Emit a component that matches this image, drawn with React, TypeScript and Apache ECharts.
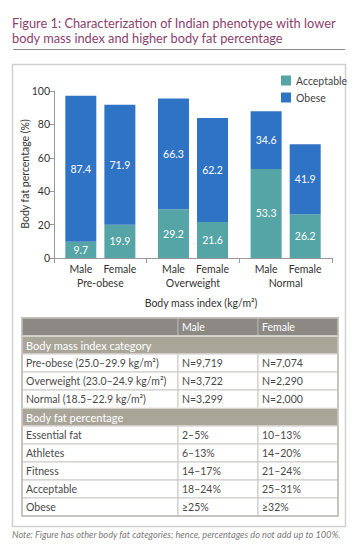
import React, { useEffect, useRef } from "react";
import * as echarts from "echarts";

const titleLines = [
  "Figure 1: Characterization of Indian phenotype with lower",
  "body mass index and higher body fat percentage",
];
const categories = ["Pre-obese", "Overweight", "Normal"];
const genders = ["Male", "Female"];
const maleAcceptable = [9.7, 29.2, 53.3];
const maleObese = [87.4, 66.3, 34.6];
const femaleAcceptable = [19.9, 21.6, 26.2];
const femaleObese = [71.9, 62.2, 41.9];
const yTicks = [0, 20, 40, 60, 80, 100];
const yAxisTitle = "Body fat percentage (%)";
const xAxisTitle = "Body mass index (kg/m²)";

const tableHeader = ["", "Male", "Female"];
const bmiSection = "Body mass index category";
const bmiRows = [
  ["Pre-obese (25.0–29.9 kg/m²)", "N=9,719", "N=7,074"],
  ["Overweight (23.0–24.9 kg/m²)", "N=3,722", "N=2,290"],
  ["Normal (18.5–22.9 kg/m²)", "N=3,299", "N=2,000"],
];
const fatSection = "Body fat percentage";
const fatRows = [
  ["Essential fat", "2–5%", "10–13%"],
  ["Athletes", "6–13%", "14–20%"],
  ["Fitness", "14–17%", "21–24%"],
  ["Acceptable", "18–24%", "25–31%"],
  ["Obese", "≥25%", "≥32%"],
];
const noteText =
  "Note: Figure has other body fat categories; hence, percentages do not add up to 100%.";

const FONT = "Lato, 'Open Sans', sans-serif";
const TEAL = "#56a5a6";
const BLUE = "#2f73c5";

function buildTable() {
  const els: any[] = [];
  const x0 = 22;
  const colX = [22, 178, 258, 338];
  const rowH = 18;
  let y = 318;
  const border = "#cbc8c3";
  const addRow = (cells: string[], kind: "header" | "section" | "body") => {
    if (kind === "section") {
      els.push({
        type: "rect",
        shape: { x: x0, y, width: colX[3] - x0, height: rowH },
        style: { fill: "#a9a699", stroke: "#ffffff", lineWidth: 1 },
      });
      els.push({
        type: "text",
        x: x0 + 4,
        y: y + rowH / 2,
        style: { text: cells[0], fill: "#ffffff", fontSize: 11, fontFamily: FONT, verticalAlign: "middle" },
      });
    } else {
      for (let c = 0; c < 3; c++) {
        els.push({
          type: "rect",
          shape: { x: colX[c], y, width: colX[c + 1] - colX[c], height: rowH },
          style: {
            fill: kind === "header" ? "#8c8984" : "#ffffff",
            stroke: kind === "header" ? "#b5b2ac" : border,
            lineWidth: 1,
          },
        });
        if (cells[c]) {
          els.push({
            type: "text",
            x: colX[c] + 4,
            y: y + rowH / 2,
            style: {
              text: cells[c],
              fill: kind === "header" ? "#ffffff" : "#4a4a4a",
              fontSize: 10.5,
              fontFamily: FONT,
              verticalAlign: "middle",
            },
          });
        }
      }
    }
    y += rowH;
  };
  addRow(tableHeader, "header");
  addRow([bmiSection], "section");
  bmiRows.forEach((r) => addRow(r, "body"));
  addRow([fatSection], "section");
  fatRows.forEach((r) => addRow(r, "body"));
  els.push({
    type: "rect",
    shape: { x: x0, y: 318, width: colX[3] - x0, height: y - 318 },
    style: { fill: "none", stroke: "#bdbab5", lineWidth: 1.5 },
  });
  return els;
}

export default function App() {
  const ref = useRef<HTMLDivElement>(null);
  useEffect(() => {
    if (!ref.current) return;
    const chart = echarts.init(ref.current, null, { renderer: "svg" });
    const labelStyle = {
      show: true,
      position: "inside" as const,
      color: "#ffffff",
      fontSize: 10.5,
      fontFamily: FONT,
      formatter: (p: any) => p.value.toFixed(1),
    };
    const seriesDefs = [
      { name: "Acceptable", stack: "male", data: maleAcceptable, color: TEAL },
      { name: "Obese", stack: "male", data: maleObese, color: BLUE },
      { name: "Acceptable", stack: "female", data: femaleAcceptable, color: TEAL },
      { name: "Obese", stack: "female", data: femaleObese, color: BLUE },
    ];
    chart.setOption({
      animation: false,
      backgroundColor: "#ffffff",
      title: {
        text: titleLines.join("\n"),
        left: 12,
        top: 15,
        padding: 0,
        textStyle: { fontSize: 12.8, lineHeight: 15, fontWeight: "normal", color: "#8b3f6e", fontFamily: FONT },
      },
      legend: {
        orient: "vertical",
        left: 276,
        top: 70,
        itemWidth: 10,
        itemHeight: 10,
        itemGap: 6,
        icon: "rect",
        data: ["Acceptable", "Obese"],
        textStyle: { fontSize: 10.5, color: "#444", fontFamily: FONT },
      },
      grid: { left: 54, right: 24, top: 91, bottom: 294 },
      xAxis: {
        type: "category",
        data: categories,
        axisLine: { lineStyle: { color: "#999" } },
        axisTick: { show: true, length: 5, lineStyle: { color: "#999" } },
        axisLabel: {
          margin: 4,
          interval: 0,
          formatter: (v: string) => `{g|${genders[0]}}{g|${genders[1]}}\n{n|${v}}`,
          rich: {
            g: { width: 39, align: "center", fontSize: 10.5, color: "#333", fontFamily: FONT, lineHeight: 14 },
            n: { fontSize: 10.5, color: "#333", fontFamily: FONT, lineHeight: 14 },
          },
        },
      },
      yAxis: {
        type: "value",
        min: 0,
        max: 100,
        interval: 20,
        axisLine: { show: true, lineStyle: { color: "#999" } },
        axisTick: { show: true, length: 5, lineStyle: { color: "#999" } },
        splitLine: { show: false },
        axisLabel: {
          fontSize: 10.5,
          color: "#333",
          fontFamily: FONT,
          margin: 4,
          formatter: (v: number) => (yTicks.includes(v) ? String(v) : ""),
        },
      },
      series: seriesDefs.map((s) => ({
        type: "bar",
        name: s.name,
        stack: s.stack,
        data: s.data,
        barWidth: 31,
        barGap: "26%",
        itemStyle: { color: s.color },
        label: labelStyle,
      })),
      graphic: [
        {
          type: "line",
          shape: { x1: 13, y1: 49.5, x2: 345, y2: 49.5 },
          style: { stroke: "#8a8a8a", lineWidth: 1 },
        },
        {
          type: "rect",
          z: -10,
          shape: { x: 12.5, y: 64.5, width: 333, height: 462 },
          style: { fill: "none", stroke: "#cfcfcf", lineWidth: 1.5 },
        },
        {
          type: "text",
          x: 25,
          y: 174,
          rotation: Math.PI / 2,
          style: {
            text: yAxisTitle,
            fontSize: 10.5,
            fill: "#333",
            fontFamily: FONT,
            align: "center",
            verticalAlign: "middle",
          },
        },
        {
          type: "text",
          x: 201,
          y: 303,
          style: {
            text: xAxisTitle,
            fontSize: 10.5,
            fill: "#333",
            fontFamily: FONT,
            align: "center",
            verticalAlign: "middle",
          },
        },
        ...buildTable(),
        {
          type: "text",
          x: 12,
          y: 534,
          style: {
            text: noteText,
            fontSize: 9.2,
            fontStyle: "italic",
            fill: "#7a7a7a",
            fontFamily: FONT,
            verticalAlign: "middle",
          },
        },
      ],
    });
    return () => chart.dispose();
  }, []);
  return (
    <div
      ref={ref}
      style={{ position: "fixed", left: 0, top: 0, width: 356, height: 552, background: "#fff" }}
    />
  );
}
